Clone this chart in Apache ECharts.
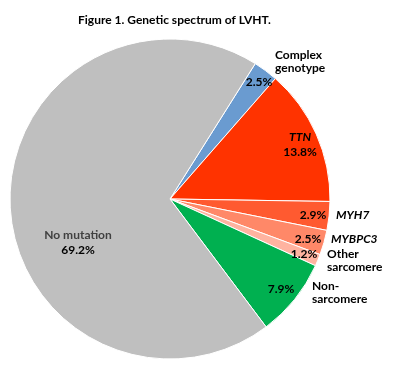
<!DOCTYPE html>
<html>
<head>
<meta charset="utf-8">
<script src="https://cdn.jsdelivr.net/npm/echarts@6/dist/echarts.min.js"></script>
<style>html,body{margin:0;padding:0;background:#fff}#c{width:400px;height:374px}</style>
</head>
<body>
<div id="c"></div>
<script>
const categories = ['Complex genotype','TTN','MYH7','MYBPC3','Other sarcomere','Non-sarcomere','No mutation'];
const values = [2.5, 13.8, 2.9, 2.5, 1.2, 7.9, 69.2];
const outerNames = ['Complex\ngenotype', '', 'MYH7', 'MYBPC3', 'Other\nsarcomere', 'Non-\nsarcomere', ''];
const italicNames = ['TTN', 'MYH7', 'MYBPC3'];

const colors = ['#6A9BD0', '#FF3300', '#FF5A30', '#FF8868', '#FFB3A0', '#00B050', '#BFBFBF'];
const valuePos = [[259, 82], [300, 145], [313, 215], [308, 239], [304, 254], [281, 289], [78, 243]];
const namePos = [[275, 62], null, [336, 215], [331, 239], [327, 261], [312, 293], null];

const FONT = 'Lato';
const chart = echarts.init(document.getElementById('c'), null, {renderer: 'canvas'});

const baseData = categories.map((c, i) => ({name: c, value: values[i]}));

function valueFmt(p) {
  const i = p.dataIndex;
  const v = values[i].toFixed(1) + '%';
  if (categories[i] === 'TTN') return '{gi|TTN}\n{v|' + v + '}';
  if (categories[i] === 'No mutation') return '{n|No mutation}\n{v|' + v + '}';
  return '{v|' + v + '}';
}
function nameFmt(p) {
  const i = p.dataIndex;
  const t = outerNames[i];
  if (!t) return '';
  const style = italicNames.indexOf(categories[i]) >= 0 ? 'gi' : 'b';
  return t.split('\n').map(s => '{' + style + '|' + s + '}').join('\n');
}

const option = {
  animation: false,
  title: {
    left: 73, top: 9,
    text: '{b|Figure 1.}{r| Genetic spectrum of LVHT.}',
    textStyle: {
      rich: {
        b: {fontFamily: FONT, fontWeight: 'bold', fontSize: 12, color: '#000'},
        r: {fontFamily: FONT, fontSize: 12, color: '#000'}
      }
    }
  },
  series: [
    {
      type: 'pie',
      center: [170, 199],
      radius: [0, 160],
      startAngle: 57.8,
      clockwise: true,
      silent: true,
      data: baseData.map((d, i) => ({...d, itemStyle: {color: colors[i]}})),
      itemStyle: {borderColor: '#fff', borderWidth: 1},
      labelLine: {show: false},
      label: {
        show: true,
        position: 'inside',
        overflow: 'none',
        formatter: valueFmt,
        lineHeight: 15,
        rich: {
          v: {fontFamily: FONT, fontWeight: 'bold', fontSize: 12, color: '#000', lineHeight: 15},
          gi: {fontFamily: FONT, fontWeight: 'bold', fontStyle: 'italic', fontSize: 12, color: '#000', lineHeight: 15},
          n: {fontFamily: FONT, fontWeight: 'bold', fontSize: 12, color: '#404040', lineHeight: 15}
        }
      },
      labelLayout: function (p) {
        const pos = valuePos[p.dataIndex];
        return {x: pos[0], y: pos[1], align: 'center', verticalAlign: 'middle'};
      }
    },
    {
      type: 'pie',
      center: [170, 199],
      radius: [0, 160],
      startAngle: 57.8,
      clockwise: true,
      silent: true,
      data: baseData.map(d => ({...d, itemStyle: {color: 'rgba(0,0,0,0)'}})),
      itemStyle: {borderWidth: 0},
      labelLine: {show: false},
      label: {
        show: true,
        position: 'inside',
        overflow: 'none',
        formatter: nameFmt,
        align: 'left',
        rich: {
          b: {fontFamily: FONT, fontWeight: 'bold', fontSize: 12, color: '#000', lineHeight: 13, align: 'left'},
          gi: {fontFamily: FONT, fontWeight: 'bold', fontStyle: 'italic', fontSize: 12, color: '#000', lineHeight: 13, align: 'left'}
        }
      },
      labelLayout: function (p) {
        const pos = namePos[p.dataIndex];
        if (!pos) return {x: -100, y: -100};
        return {x: pos[0], y: pos[1], align: 'left', verticalAlign: 'middle'};
      }
    }
  ]
};
chart.setOption(option);
</script>
</body>
</html>
